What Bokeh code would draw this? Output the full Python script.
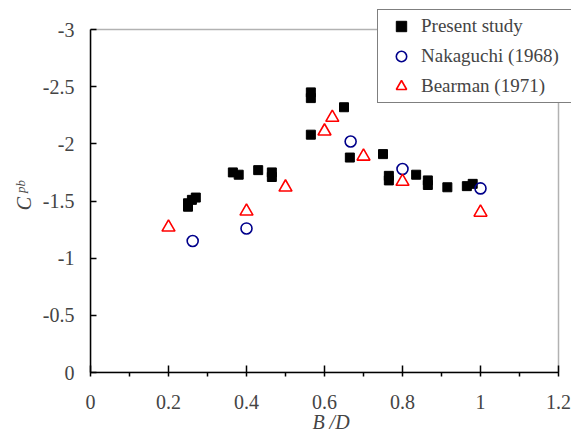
import math
from bokeh.plotting import figure
from bokeh.models import (Range1d, FixedTicker, Legend, LegendItem, Label,
                          BoxAnnotation)
from bokeh.embed import file_html
from bokeh.resources import INLINE

# ---- data ----
present_x = [0.25, 0.25, 0.26, 0.27, 0.365, 0.38, 0.43, 0.465, 0.465,
             0.565, 0.565, 0.565, 0.65, 0.665, 0.75, 0.765, 0.765,
             0.835, 0.865, 0.865, 0.915, 0.965, 0.98]
present_y = [-1.45, -1.48, -1.51, -1.53, -1.75, -1.73, -1.77, -1.75, -1.71,
             -2.45, -2.40, -2.08, -2.32, -1.88, -1.91, -1.72, -1.68,
             -1.73, -1.68, -1.64, -1.62, -1.63, -1.65]

naka_x = [0.262, 0.40, 0.667, 0.80, 1.00]
naka_y = [-1.15, -1.26, -2.02, -1.78, -1.61]

bear_x = [0.20, 0.40, 0.50, 0.60, 0.62, 0.70, 0.80, 1.00]
bear_y = [-1.27, -1.41, -1.62, -2.11, -2.23, -1.89, -1.67, -1.40]

x_ticks = [0, 0.2, 0.4, 0.6, 0.8, 1.0, 1.2]
x_tick_labels = ["0", "0.2", "0.4", "0.6", "0.8", "1", "1.2"]
x_minor = [0.1, 0.3, 0.5, 0.7, 0.9, 1.1]
y_ticks = [0, -0.5, -1.0, -1.5, -2.0, -2.5, -3.0]
y_tick_labels = ["0", "-0.5", "-1", "-1.5", "-2", "-2.5", "-3"]

x_min, x_max = 0.0, 1.2
y_min, y_max = 0.0, -3.0

series_names = ["Present study", "Nakaguchi (1968)", "Bearman (1971)"]

FONT = "Liberation Serif"

W, H = 571, 439
LEFT, RIGHT_AX, TOP_AX, BOTTOM = 90, 558, 29, 372   # axis box in pixels
TOP = 6                                              # frame top (room for legend)
xs = (RIGHT_AX - LEFT) / (x_max - x_min)
ys = (BOTTOM - TOP_AX) / abs(y_max - y_min)

p = figure(width=W, height=H, output_backend="svg", toolbar_location=None,
           x_range=Range1d(x_min, x_max + (W - RIGHT_AX) / xs),
           y_range=Range1d(y_min, y_max - (TOP_AX - TOP) / ys),
           min_border_left=LEFT, min_border_right=0, min_border_top=TOP,
           min_border_bottom=H - BOTTOM)

p.xgrid.visible = False
p.ygrid.visible = False
p.outline_line_color = None
p.background_fill_color = "white"
p.border_fill_color = "white"

# x axis
xa = p.xaxis[0]
xa.bounds = (x_min, x_max)
xa.ticker = FixedTicker(ticks=x_ticks, minor_ticks=x_minor)
xa.major_label_overrides = dict(zip(x_ticks, x_tick_labels))
xa.major_tick_in = 7
xa.major_tick_out = 4
xa.minor_tick_in = 0
xa.minor_tick_out = 4
xa.axis_line_width = 1.5
xa.major_tick_line_width = 1.5
xa.minor_tick_line_width = 1.5
xa.major_label_text_font = FONT
xa.major_label_text_font_size = "20px"
xa.major_label_standoff = 18
xa.axis_label = "B /D"
xa.axis_label_text_font = FONT
xa.axis_label_text_font_style = "italic"
xa.axis_label_text_font_size = "20px"
xa.axis_label_standoff = -1

# y axis
ya = p.yaxis[0]
ya.bounds = (y_max, y_min)
ya.ticker = FixedTicker(ticks=y_ticks, minor_ticks=[])
ya.major_label_overrides = dict(zip(y_ticks, y_tick_labels))
ya.major_tick_in = 6
ya.major_tick_out = 0
ya.minor_tick_line_color = None
ya.axis_line_width = 1.5
ya.major_tick_line_width = 1.5
ya.major_label_text_font = FONT
ya.major_label_text_font_size = "20px"
ya.major_label_standoff = 16

# top and right sides of the plot box
p.add_layout(BoxAnnotation(left=x_min, right=x_max, bottom=y_min, top=y_max,
                           fill_color=None, fill_alpha=0,
                           line_color="black", line_width=1.5))

r1 = p.scatter(present_x, present_y, marker="square", size=9,
               fill_color="black", line_color="black")
r2 = p.scatter(naka_x, naka_y, marker="circle", size=11,
               fill_color=None, line_color="#00008B", line_width=1.6)
r3 = p.scatter(bear_x, bear_y, marker="triangle", size=13,
               fill_color=None, line_color="red", line_width=1.6)

legend = Legend(items=[LegendItem(label=series_names[0], renderers=[r1]),
                       LegendItem(label=series_names[1], renderers=[r2]),
                       LegendItem(label=series_names[2], renderers=[r3])],
                location=(377 - LEFT, BOTTOM - 103), orientation="vertical",
                label_text_font=FONT, label_text_font_size="19px",
                glyph_width=40, glyph_height=26, label_height=18,
                label_width=151, label_standoff=-5, padding=3, spacing=4,
                margin=0, border_line_color="black", border_line_width=1,
                background_fill_color="white", background_fill_alpha=1)
p.add_layout(legend, "center")

# y axis title  C_pb  (in the left side panel)
p.add_layout(Label(x=6, y=BOTTOM - 203, x_units="screen", y_units="screen",
                   text="C", text_font=FONT, text_font_style="italic",
                   text_font_size="20px", text_align="center",
                   text_baseline="middle", angle=math.pi / 2), "left")
p.add_layout(Label(x=18, y=BOTTOM - 186, x_units="screen", y_units="screen",
                   text="pb", text_font=FONT, text_font_style="italic",
                   text_font_size="13px", text_align="center",
                   text_baseline="middle", angle=math.pi / 2), "left")

open("out.html", "w").write(file_html(p, INLINE))
